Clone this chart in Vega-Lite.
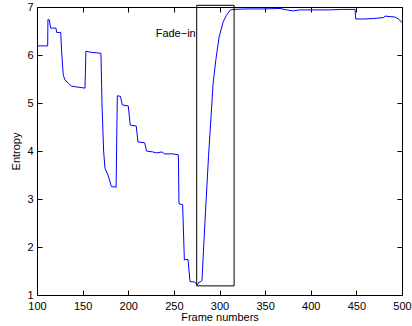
{
  "$schema": "https://vega.github.io/schema/vega-lite/v6.json",
  "width": 365,
  "height": 288,
  "autosize": {"type": "none"},
  "padding": {"left": 37, "top": 7, "right": 10, "bottom": 31},
  "background": "white",
  "config": {
    "font": "Liberation Sans",
    "view": {"stroke": "black", "strokeWidth": 1},
    "axis": {
      "grid": false,
      "domain": false,
      "tickColor": "black",
      "tickSize": -5,
      "labelFlush": false,
      "labelColor": "black",
      "labelFontSize": 11,
      "labelFont": "Liberation Sans",
      "titleFont": "Liberation Sans",
      "titleFontSize": 11,
      "titleFontWeight": "normal",
      "titleColor": "black"
    }
  },
  "datasets": {
    "series": [
      {"frame": 100, "entropy": 6.19},
      {"frame": 111.7, "entropy": 6.19},
      {"frame": 112, "entropy": 6.74},
      {"frame": 113.5, "entropy": 6.73},
      {"frame": 115, "entropy": 6.56},
      {"frame": 120.8, "entropy": 6.56},
      {"frame": 121.5, "entropy": 6.47},
      {"frame": 126, "entropy": 6.47},
      {"frame": 127, "entropy": 6.07},
      {"frame": 128.8, "entropy": 5.58},
      {"frame": 130.7, "entropy": 5.48},
      {"frame": 134.3, "entropy": 5.41},
      {"frame": 138, "entropy": 5.35},
      {"frame": 145, "entropy": 5.33},
      {"frame": 152.6, "entropy": 5.31},
      {"frame": 153.6, "entropy": 6.08},
      {"frame": 158, "entropy": 6.06},
      {"frame": 170.1, "entropy": 6.035},
      {"frame": 171.2, "entropy": 5.0},
      {"frame": 173, "entropy": 4.0},
      {"frame": 174.5, "entropy": 3.64},
      {"frame": 177.8, "entropy": 3.5},
      {"frame": 181.5, "entropy": 3.26},
      {"frame": 186, "entropy": 3.25},
      {"frame": 186.7, "entropy": 3.24},
      {"frame": 188, "entropy": 5.15},
      {"frame": 191.4, "entropy": 5.14},
      {"frame": 193.5, "entropy": 4.96},
      {"frame": 200, "entropy": 4.94},
      {"frame": 202.2, "entropy": 4.54},
      {"frame": 208.8, "entropy": 4.52},
      {"frame": 210.6, "entropy": 4.19},
      {"frame": 218, "entropy": 4.17},
      {"frame": 220, "entropy": 4.0},
      {"frame": 227, "entropy": 3.98},
      {"frame": 230.7, "entropy": 3.96},
      {"frame": 236.9, "entropy": 3.98},
      {"frame": 239.8, "entropy": 3.94},
      {"frame": 249, "entropy": 3.94},
      {"frame": 254.9, "entropy": 3.92},
      {"frame": 255.6, "entropy": 2.9},
      {"frame": 259.6, "entropy": 2.88},
      {"frame": 261.5, "entropy": 1.73},
      {"frame": 263, "entropy": 1.74},
      {"frame": 265.5, "entropy": 1.74},
      {"frame": 267.7, "entropy": 1.28},
      {"frame": 272.8, "entropy": 1.27},
      {"frame": 275.8, "entropy": 1.21},
      {"frame": 277.7, "entropy": 1.27},
      {"frame": 279.5, "entropy": 1.28},
      {"frame": 280.8, "entropy": 1.3},
      {"frame": 284, "entropy": 2.5},
      {"frame": 288, "entropy": 3.9},
      {"frame": 290.5, "entropy": 4.65},
      {"frame": 293, "entropy": 5.41},
      {"frame": 296, "entropy": 5.9},
      {"frame": 299.6, "entropy": 6.38},
      {"frame": 304, "entropy": 6.69},
      {"frame": 307.7, "entropy": 6.83},
      {"frame": 312, "entropy": 6.94},
      {"frame": 315, "entropy": 6.95},
      {"frame": 330, "entropy": 6.96},
      {"frame": 350, "entropy": 6.96},
      {"frame": 366.3, "entropy": 6.97},
      {"frame": 373.5, "entropy": 6.94},
      {"frame": 380.9, "entropy": 6.92},
      {"frame": 388, "entropy": 6.94},
      {"frame": 400, "entropy": 6.94},
      {"frame": 420, "entropy": 6.94},
      {"frame": 435, "entropy": 6.95},
      {"frame": 448.5, "entropy": 6.95},
      {"frame": 449.3, "entropy": 6.75},
      {"frame": 457.7, "entropy": 6.75},
      {"frame": 468.7, "entropy": 6.76},
      {"frame": 479.6, "entropy": 6.78},
      {"frame": 481.5, "entropy": 6.81},
      {"frame": 487, "entropy": 6.8},
      {"frame": 492.5, "entropy": 6.79},
      {"frame": 496, "entropy": 6.75},
      {"frame": 500, "entropy": 6.68}
    ],
    "box": [{"x1": 275, "x2": 316, "y1": 1.19, "y2": 7.035}],
    "note": [{"frame": 252, "entropy": 6.44, "label": "Fade−in"}]
  },
  "layer": [
    {
      "data": {"name": "series"},
      "mark": {"type": "line", "color": "#0000ff", "strokeWidth": 1, "clip": true},
      "encoding": {
        "x": {"field": "frame", "type": "quantitative",
              "scale": {"domain": [100, 500], "nice": false, "zero": false},
              "axis": {"orient": "bottom", "values": [100,150,200,250,300,350,400,450,500], "title": "Frame numbers", "labelPadding": 10, "titlePadding": 0}},
        "y": {"field": "entropy", "type": "quantitative",
              "scale": {"domain": [1, 7], "nice": false, "zero": false},
              "axis": {"orient": "left", "values": [1,2,3,4,5,6,7], "title": "Entropy", "labelPadding": 9, "titlePadding": 5}}
      }
    },
    {
      "data": {"name": "box"},
      "mark": {"type": "rect", "fill": null, "stroke": "black", "strokeWidth": 1},
      "encoding": {
        "x": {"field": "x1", "type": "quantitative", "axis": null},
        "x2": {"field": "x2"},
        "y": {"field": "y1", "type": "quantitative", "axis": null},
        "y2": {"field": "y2"}
      }
    },
    {
      "data": {"name": "note"},
      "mark": {"type": "text", "fontSize": 11, "color": "black", "font": "Liberation Sans"},
      "encoding": {
        "x": {"field": "frame", "type": "quantitative", "axis": {"orient": "top", "values": [100,150,200,250,300,350,400,450,500], "labels": false, "title": null}},
        "y": {"field": "entropy", "type": "quantitative", "axis": {"orient": "right", "values": [1,2,3,4,5,6,7], "labels": false, "title": null}},
        "text": {"field": "label"}
      }
    }
  ],
  "resolve": {"axis": {"x": "independent", "y": "independent"}}
}
